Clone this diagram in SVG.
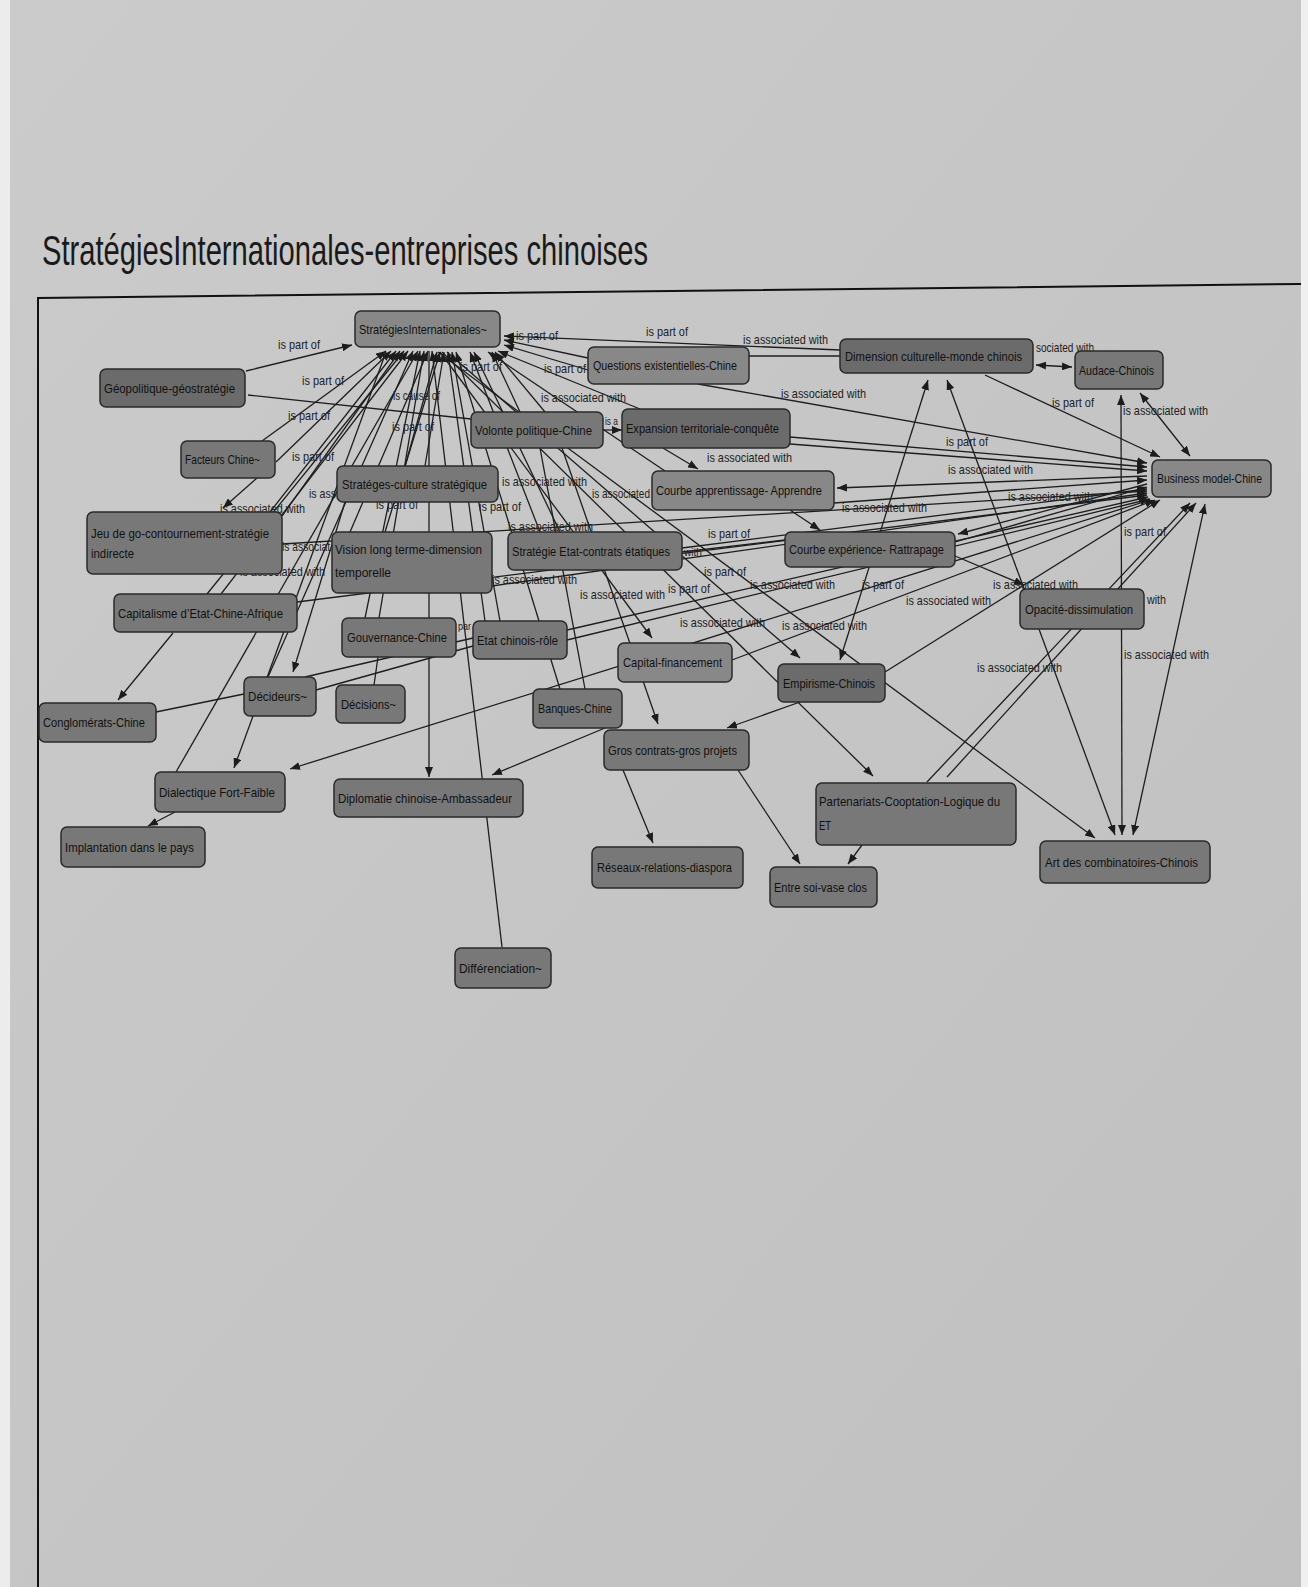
<svg xmlns="http://www.w3.org/2000/svg" width="1308" height="1587" viewBox="0 0 1308 1587">
<defs>
<linearGradient id="paper" x1="0" y1="0" x2="1" y2="1">
<stop offset="0" stop-color="#cbcbcb"/>
<stop offset="1" stop-color="#c0c0c0"/>
</linearGradient>
<marker id="a" viewBox="0 0 10 8" refX="10" refY="4" markerWidth="10" markerHeight="8" markerUnits="userSpaceOnUse" orient="auto-start-reverse">
<path d="M0,0 L10,4 L0,8 z" fill="#1c1c1c"/>
</marker>
</defs>
<style>
.c{stroke:#1e1e1e;stroke-width:1.3;fill:none}
.e{marker-end:url(#a)}
.b{marker-start:url(#a);marker-end:url(#a)}
.l{font-family:"Liberation Sans",Arial,sans-serif;font-size:13px;fill:#222}
.n rect{fill:#787878;stroke:#2a2a2a;stroke-width:1.5}
.n text{font-family:"Liberation Sans",Arial,sans-serif;font-size:13.5px;fill:#111}
.lt rect{fill:#888888}
.dk rect{fill:#6b6b6b}
</style>
<rect x="0" y="0" width="1308" height="1587" fill="url(#paper)"/>
<rect x="0" y="0" width="10" height="1587" fill="#ececec"/>
<rect x="1301" y="0" width="7" height="1587" fill="#f0f0f0"/>
<text x="42" y="265" font-family="Liberation Sans,Arial,sans-serif" font-size="42" fill="#1a1a1a" textLength="606" lengthAdjust="spacingAndGlyphs">StratégiesInternationales-entreprises chinoises</text>
<polyline points="38,1587 38,298 1301,284" fill="none" stroke="#111" stroke-width="2"/>

<g id="connectors">
<line class="c e" x1="246" y1="371" x2="352" y2="345"/>
<line class="c e" x1="262" y1="441" x2="386" y2="351"/>
<line class="c e" x1="276" y1="462" x2="391" y2="351"/>
<line class="c e" x1="270" y1="512" x2="396" y2="351"/>
<line class="c e" x1="282" y1="516" x2="400" y2="351"/>
<line class="c e" x1="207" y1="594" x2="404" y2="351"/>
<line class="c e" x1="221" y1="594" x2="408" y2="351"/>
<line class="c e" x1="176" y1="772" x2="418" y2="351"/>
<line class="c e" x1="386" y1="352" x2="234" y2="768"/>
<line class="c e" x1="345" y1="502" x2="293" y2="672"/>
<line class="c e" x1="268" y1="677" x2="413" y2="351"/>
<line class="c e" x1="365" y1="618" x2="420" y2="351"/>
<line class="c e" x1="379" y1="618" x2="424" y2="351"/>
<line class="c" x1="374" y1="685" x2="378" y2="657"/>
<line class="c e" x1="429" y1="351" x2="429" y2="777"/>
<line class="c e" x1="502" y1="947" x2="432" y2="351"/>
<line class="c e" x1="350" y1="532" x2="428" y2="351"/>
<line class="c e" x1="385" y1="532" x2="440" y2="352"/>
<line class="c e" x1="405" y1="466" x2="437" y2="352"/>
<line class="c e" x1="425" y1="466" x2="444" y2="352"/>
<line class="c e" x1="485" y1="621" x2="448" y2="352"/>
<line class="c e" x1="500" y1="621" x2="452" y2="352"/>
<line class="c e" x1="560" y1="689" x2="456" y2="352"/>
<line class="c e" x1="440" y1="352" x2="652" y2="638"/>
<line class="c e" x1="562" y1="448" x2="658" y2="724"/>
<line class="c" x1="540" y1="448" x2="585" y2="689"/>
<line class="c e" x1="540" y1="532" x2="470" y2="352"/>
<line class="c e" x1="560" y1="532" x2="474" y2="352"/>
<line class="c e" x1="447" y1="352" x2="800" y2="658"/>
<line class="c e" x1="442" y1="352" x2="873" y2="776"/>
<line class="c e" x1="438" y1="352" x2="1095" y2="838"/>
<line class="c e" x1="665" y1="471" x2="488" y2="352"/>
<line class="c e" x1="520" y1="412" x2="492" y2="352"/>
<line class="c e" x1="545" y1="412" x2="495" y2="352"/>
<line class="c e" x1="640" y1="409" x2="498" y2="351"/>
<line class="c e" x1="588" y1="358" x2="504" y2="340"/>
<line class="c e" x1="588" y1="370" x2="504" y2="345"/>
<line class="c e" x1="840" y1="350" x2="504" y2="336"/>
<line class="c" x1="749" y1="356" x2="840" y2="356"/>

<line class="c e" x1="985" y1="375" x2="1160" y2="457"/>
<line class="c b" x1="1140" y1="393" x2="1190" y2="456"/>
<line class="c e" x1="698" y1="384" x2="1147" y2="463"/>
<line class="c e" x1="790" y1="437" x2="1147" y2="467"/>
<line class="c e" x1="790" y1="444" x2="1147" y2="471"/>
<line class="c e" x1="1147" y1="476" x2="837" y2="488"/>
<line class="c e" x1="834" y1="503" x2="1147" y2="480"/>
<line class="c e" x1="1147" y1="484" x2="958" y2="534" stroke-width="2.6"/>
<line class="c e" x1="955" y1="542" x2="1147" y2="487"/>
<line class="c e" x1="682" y1="548" x2="1147" y2="489"/>
<line class="c e" x1="282" y1="544" x2="1147" y2="491"/>
<line class="c e" x1="492" y1="586" x2="1147" y2="493"/>
<line class="c e" x1="297" y1="602" x2="1147" y2="495"/>
<line class="c e" x1="567" y1="630" x2="1148" y2="497"/>
<line class="c e" x1="567" y1="640" x2="1150" y2="499"/>
<line class="c e" x1="732" y1="660" x2="1155" y2="500"/>
<line class="c e" x1="885" y1="672" x2="1160" y2="500"/>
<line class="c e" x1="927" y1="782" x2="1190" y2="503"/>
<line class="c e" x1="947" y1="777" x2="1196" y2="503"/>
<line class="c b" x1="1133" y1="835" x2="1205" y2="504"/>
<line class="c b" x1="1121" y1="395" x2="1122" y2="835"/>
<line class="c b" x1="947" y1="380" x2="1115" y2="835"/>
<line class="c b" x1="840" y1="660" x2="928" y2="380"/>
<line class="c e" x1="955" y1="556" x2="1024" y2="585"/>
<line class="c b" x1="1036" y1="365" x2="1072" y2="367" stroke-width="2"/>
<line class="c e" x1="1150" y1="500" x2="290" y2="769"/>

<line class="c e" x1="257" y1="478" x2="223" y2="508"/>
<line class="c" x1="248" y1="395" x2="471" y2="419"/>
<line class="c e" x1="173" y1="633" x2="118" y2="700"/>
<line class="c" x1="156" y1="712" x2="244" y2="694"/>
<line class="c" x1="316" y1="690" x2="473" y2="646"/>
<line class="c" x1="305" y1="677" x2="473" y2="638"/>
<line class="c e" x1="605" y1="728" x2="492" y2="775"/>
<line class="c e" x1="623" y1="770" x2="653" y2="843"/>
<line class="c e" x1="738" y1="770" x2="800" y2="864"/>
<line class="c e" x1="862" y1="845" x2="848" y2="864"/>
<line class="c e" x1="800" y1="702" x2="727" y2="728"/>
<line class="c e" x1="175" y1="812" x2="148" y2="826"/>
<line class="c e" x1="603" y1="430" x2="622" y2="430"/>
<line class="c e" x1="663" y1="448" x2="698" y2="469"/>
<line class="c e" x1="790" y1="510" x2="820" y2="530"/>
<line class="c" x1="682" y1="552" x2="785" y2="540"/>
</g>

<g id="labels" class="l">
<text x="278" y="349" textLength="42" lengthAdjust="spacingAndGlyphs">is part of</text>
<text x="302" y="385" textLength="42" lengthAdjust="spacingAndGlyphs">is part of</text>
<text x="288" y="420" textLength="42" lengthAdjust="spacingAndGlyphs">is part of</text>
<text x="292" y="461" textLength="42" lengthAdjust="spacingAndGlyphs">is part of</text>
<text x="393" y="400" textLength="47" lengthAdjust="spacingAndGlyphs">is cause of</text>
<text x="392" y="431" textLength="42" lengthAdjust="spacingAndGlyphs">is part of</text>
<text x="460" y="371" textLength="42" lengthAdjust="spacingAndGlyphs">is part of</text>
<text x="516" y="340" textLength="42" lengthAdjust="spacingAndGlyphs">is part of</text>
<text x="646" y="336" textLength="42" lengthAdjust="spacingAndGlyphs">is part of</text>
<text x="743" y="344" textLength="85" lengthAdjust="spacingAndGlyphs">is associated with</text>
<text x="544" y="373" textLength="42" lengthAdjust="spacingAndGlyphs">is part of</text>
<text x="541" y="402" textLength="85" lengthAdjust="spacingAndGlyphs">is associated with</text>
<text x="781" y="398" textLength="85" lengthAdjust="spacingAndGlyphs">is associated with</text>
<text x="605" y="425" font-size="11" textLength="13" lengthAdjust="spacingAndGlyphs">is a</text>
<text x="707" y="462" textLength="85" lengthAdjust="spacingAndGlyphs">is associated with</text>
<text x="502" y="486" textLength="85" lengthAdjust="spacingAndGlyphs">is associated with</text>
<text x="592" y="498" textLength="58" lengthAdjust="spacingAndGlyphs">is associated</text>
<text x="479" y="511" textLength="42" lengthAdjust="spacingAndGlyphs">is part of</text>
<text x="508" y="531" textLength="85" lengthAdjust="spacingAndGlyphs">is associated with</text>
<text x="376" y="509" textLength="42" lengthAdjust="spacingAndGlyphs">is part of</text>
<text x="309" y="498" textLength="27" lengthAdjust="spacingAndGlyphs">is ass</text>
<text x="220" y="513" textLength="85" lengthAdjust="spacingAndGlyphs">is associated with</text>
<text x="282" y="551" textLength="48" lengthAdjust="spacingAndGlyphs">is associat</text>
<text x="240" y="576" textLength="85" lengthAdjust="spacingAndGlyphs">is associated with</text>
<text x="708" y="538" textLength="42" lengthAdjust="spacingAndGlyphs">is part of</text>
<text x="684" y="556" font-size="11" textLength="18" lengthAdjust="spacingAndGlyphs">with</text>
<text x="458" y="630" font-size="11" textLength="13" lengthAdjust="spacingAndGlyphs">par</text>
<text x="492" y="584" textLength="85" lengthAdjust="spacingAndGlyphs">is associated with</text>
<text x="580" y="599" textLength="85" lengthAdjust="spacingAndGlyphs">is associated with</text>
<text x="668" y="593" textLength="42" lengthAdjust="spacingAndGlyphs">is part of</text>
<text x="704" y="576" textLength="42" lengthAdjust="spacingAndGlyphs">is part of</text>
<text x="750" y="589" textLength="85" lengthAdjust="spacingAndGlyphs">is associated with</text>
<text x="680" y="627" textLength="85" lengthAdjust="spacingAndGlyphs">is associated with</text>
<text x="782" y="630" textLength="85" lengthAdjust="spacingAndGlyphs">is associated with</text>
<text x="862" y="589" textLength="42" lengthAdjust="spacingAndGlyphs">is part of</text>
<text x="906" y="605" textLength="85" lengthAdjust="spacingAndGlyphs">is associated with</text>
<text x="993" y="589" textLength="85" lengthAdjust="spacingAndGlyphs">is associated with</text>
<text x="977" y="672" textLength="85" lengthAdjust="spacingAndGlyphs">is associated with</text>
<text x="1124" y="659" textLength="85" lengthAdjust="spacingAndGlyphs">is associated with</text>
<text x="1147" y="604" textLength="19" lengthAdjust="spacingAndGlyphs">with</text>
<text x="1124" y="536" textLength="42" lengthAdjust="spacingAndGlyphs">is part of</text>
<text x="842" y="512" textLength="85" lengthAdjust="spacingAndGlyphs">is associated with</text>
<text x="1008" y="501" textLength="85" lengthAdjust="spacingAndGlyphs">is associated with</text>
<text x="946" y="446" textLength="42" lengthAdjust="spacingAndGlyphs">is part of</text>
<text x="948" y="474" textLength="85" lengthAdjust="spacingAndGlyphs">is associated with</text>
<text x="1052" y="407" textLength="42" lengthAdjust="spacingAndGlyphs">is part of</text>
<text x="1123" y="415" textLength="85" lengthAdjust="spacingAndGlyphs">is associated with</text>
<text x="1036" y="352" textLength="58" lengthAdjust="spacingAndGlyphs">sociated with</text>
</g>

<g id="nodes" class="n">
<g id="n1" class="lt"><rect x="355" y="311" width="145" height="36" rx="6"/><text x="359" y="334" textLength="128" lengthAdjust="spacingAndGlyphs">StratégiesInternationales~</text></g>
<g id="n2" class="dk"><rect x="100" y="369" width="145" height="38" rx="6"/><text x="104" y="393" textLength="131" lengthAdjust="spacingAndGlyphs">Géopolitique-géostratégie</text></g>
<g id="n3"><rect x="181" y="441" width="94" height="37" rx="6"/><text x="185" y="464" textLength="75" lengthAdjust="spacingAndGlyphs">Facteurs Chine~</text></g>
<g id="n4"><rect x="337" y="466" width="161" height="36" rx="6"/><text x="342" y="489" textLength="145" lengthAdjust="spacingAndGlyphs">Stratéges-culture stratégique</text></g>
<g id="n5"><rect x="87" y="512" width="195" height="62" rx="6"/><text x="91" y="538" textLength="178" lengthAdjust="spacingAndGlyphs">Jeu de go-contournement-stratégie</text><text x="91" y="558" textLength="43" lengthAdjust="spacingAndGlyphs">indirecte</text></g>
<g id="n6"><rect x="332" y="532" width="160" height="61" rx="6"/><text x="335" y="554" textLength="147" lengthAdjust="spacingAndGlyphs">Vision long terme-dimension</text><text x="335" y="577" textLength="56" lengthAdjust="spacingAndGlyphs">temporelle</text></g>
<g id="n7"><rect x="114" y="594" width="183" height="38" rx="6"/><text x="118" y="618" textLength="165" lengthAdjust="spacingAndGlyphs">Capitalisme d’Etat-Chine-Afrique</text></g>
<g id="n8"><rect x="342" y="618" width="114" height="39" rx="6"/><text x="347" y="642" textLength="100" lengthAdjust="spacingAndGlyphs">Gouvernance-Chine</text></g>
<g id="n9"><rect x="473" y="621" width="94" height="38" rx="6"/><text x="477" y="645" textLength="81" lengthAdjust="spacingAndGlyphs">Etat chinois-rôle</text></g>
<g id="n10"><rect x="244" y="677" width="72" height="39" rx="6"/><text x="248" y="701" textLength="59" lengthAdjust="spacingAndGlyphs">Décideurs~</text></g>
<g id="n11"><rect x="336" y="685" width="69" height="38" rx="6"/><text x="341" y="709" textLength="55" lengthAdjust="spacingAndGlyphs">Décisions~</text></g>
<g id="n12"><rect x="39" y="703" width="117" height="39" rx="6"/><text x="43" y="727" textLength="102" lengthAdjust="spacingAndGlyphs">Conglomérats-Chine</text></g>
<g id="n13"><rect x="155" y="772" width="130" height="40" rx="6"/><text x="159" y="797" textLength="116" lengthAdjust="spacingAndGlyphs">Dialectique Fort-Faible</text></g>
<g id="n14"><rect x="61" y="827" width="144" height="40" rx="6"/><text x="65" y="852" textLength="129" lengthAdjust="spacingAndGlyphs">Implantation dans le pays</text></g>
<g id="n15"><rect x="334" y="779" width="189" height="38" rx="6"/><text x="338" y="803" textLength="174" lengthAdjust="spacingAndGlyphs">Diplomatie chinoise-Ambassadeur</text></g>
<g id="n16"><rect x="455" y="948" width="96" height="40" rx="6"/><text x="459" y="973" textLength="83" lengthAdjust="spacingAndGlyphs">Différenciation~</text></g>
<g id="n17"><rect x="604" y="730" width="145" height="40" rx="6"/><text x="608" y="755" textLength="129" lengthAdjust="spacingAndGlyphs">Gros contrats-gros projets</text></g>
<g id="n18"><rect x="592" y="847" width="151" height="41" rx="6"/><text x="597" y="872" textLength="135" lengthAdjust="spacingAndGlyphs">Réseaux-relations-diaspora</text></g>
<g id="n19"><rect x="770" y="867" width="107" height="40" rx="6"/><text x="774" y="892" textLength="93" lengthAdjust="spacingAndGlyphs">Entre soi-vase clos</text></g>
<g id="n20"><rect x="816" y="783" width="200" height="62" rx="6"/><text x="819" y="806" textLength="181" lengthAdjust="spacingAndGlyphs">Partenariats-Cooptation-Logique du</text><text x="819" y="830" textLength="12" lengthAdjust="spacingAndGlyphs">ET</text></g>
<g id="n21"><rect x="1040" y="841" width="170" height="42" rx="6"/><text x="1045" y="867" textLength="153" lengthAdjust="spacingAndGlyphs">Art des combinatoires-Chinois</text></g>
<g id="n22"><rect x="533" y="689" width="89" height="39" rx="6"/><text x="538" y="713" textLength="74" lengthAdjust="spacingAndGlyphs">Banques-Chine</text></g>
<g id="n23" class="lt"><rect x="618" y="643" width="114" height="39" rx="6"/><text x="623" y="667" textLength="99" lengthAdjust="spacingAndGlyphs">Capital-financement</text></g>
<g id="n24" class="dk"><rect x="778" y="664" width="107" height="38" rx="6"/><text x="783" y="688" textLength="92" lengthAdjust="spacingAndGlyphs">Empirisme-Chinois</text></g>
<g id="n25"><rect x="508" y="532" width="174" height="38" rx="6"/><text x="512" y="556" textLength="158" lengthAdjust="spacingAndGlyphs">Stratégie Etat-contrats étatiques</text></g>
<g id="n26"><rect x="785" y="532" width="170" height="35" rx="6"/><text x="789" y="554" textLength="155" lengthAdjust="spacingAndGlyphs">Courbe expérience- Rattrapage</text></g>
<g id="n27"><rect x="1020" y="589" width="124" height="40" rx="6"/><text x="1025" y="614" textLength="108" lengthAdjust="spacingAndGlyphs">Opacité-dissimulation</text></g>
<g id="n28" class="lt"><rect x="652" y="471" width="182" height="39" rx="6"/><text x="656" y="495" textLength="166" lengthAdjust="spacingAndGlyphs">Courbe apprentissage- Apprendre</text></g>
<g id="n29"><rect x="471" y="412" width="132" height="36" rx="6"/><text x="475" y="435" textLength="117" lengthAdjust="spacingAndGlyphs">Volonte politique-Chine</text></g>
<g id="n30" class="dk"><rect x="622" y="409" width="168" height="39" rx="6"/><text x="626" y="433" textLength="153" lengthAdjust="spacingAndGlyphs">Expansion territoriale-conquête</text></g>
<g id="n31" class="lt"><rect x="588" y="347" width="161" height="37" rx="6"/><text x="593" y="370" textLength="144" lengthAdjust="spacingAndGlyphs">Questions existentielles-Chine</text></g>
<g id="n32" class="dk"><rect x="840" y="339" width="193" height="34" rx="6"/><text x="845" y="361" textLength="177" lengthAdjust="spacingAndGlyphs">Dimension culturelle-monde chinois</text></g>
<g id="n33"><rect x="1075" y="351" width="88" height="38" rx="6"/><text x="1079" y="375" textLength="75" lengthAdjust="spacingAndGlyphs">Audace-Chinois</text></g>
<g id="n34" class="lt"><rect x="1152" y="460" width="119" height="37" rx="6"/><text x="1157" y="483" textLength="105" lengthAdjust="spacingAndGlyphs">Business model-Chine</text></g>
</g>
</svg>
